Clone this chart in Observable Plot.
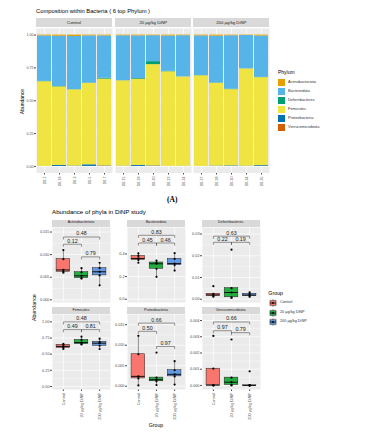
<!DOCTYPE html>
<html><head><meta charset="utf-8">
<script src="https://cdn.jsdelivr.net/npm/d3@7"></script>
<script src="https://cdn.jsdelivr.net/npm/@observablehq/plot@0.6"></script>
<style>
html,body{margin:0;padding:0;background:#fff;}
#root{position:relative;width:388px;height:435px;overflow:hidden;font-family:"Liberation Sans",Arial,sans-serif;background:#fff;}
.t{position:absolute;white-space:nowrap;line-height:1;}
.strip{position:absolute;background:#D9D9D9;color:#1A1A1A;display:flex;align-items:center;justify-content:center;white-space:nowrap;line-height:1;}
svg{overflow:visible;display:block;}
</style></head><body><div id="root"></div>
<script>
// ---------- data ----------
const phyla = ["Actinobacteriota","Bacteroidota","Deferribacteres","Firmicutes","Proteobacteria","Verrucomicrobiota"];
const phylumColors = ["#E69F00","#56B4E9","#009E73","#F0E442","#0072B2","#D55E00"];
const stackOrder = ["Verrucomicrobiota","Proteobacteria","Firmicutes","Deferribacteres","Bacteroidota","Actinobacteriota"];
const groups = ["Control","20 µg/kg DiNP","200 µg/kg DiNP"];
const groupColors = ["#F8766D","#22AD3E","#6398E2"];
const samples = ["D0-1","D0-16","D0-3","D0-5","D0-7","D0-15","D0-18","D0-20","D0-22","D0-24","D0-27","D0-28","D0-30","D0-34","D0-35"];
const sampleGroup = ["Control","Control","Control","Control","Control",
  "20 µg/kg DiNP","20 µg/kg DiNP","20 µg/kg DiNP","20 µg/kg DiNP","20 µg/kg DiNP",
  "200 µg/kg DiNP","200 µg/kg DiNP","200 µg/kg DiNP","200 µg/kg DiNP","200 µg/kg DiNP"];
const actinobacteriota = [0.0062,0.0090,0.0110,0.0060,0.0066, 0.0053,0.0061,0.0047,0.0070,0.0048, 0.0062,0.0082,0.0054,0.0032,0.0070];
const bacteroidota     = [0.3466,0.3827,0.4044,0.3602,0.3224, 0.3420,0.3246,0.1976,0.2691,0.3134, 0.3019,0.3564,0.4066,0.2533,0.3150];
const deferribacteres  = [0.0020,0.0025,0.0012,0.0015,0.0060, 0.0009,0.0051,0.0228,0.0031,0.0006, 0.0015,0.0025,0.0032,0.0011,0.0019];
const firmicutes       = [0.645,0.598,0.580,0.620,0.660, 0.650,0.656,0.770,0.720,0.680, 0.690,0.630,0.580,0.740,0.670];
const proteobacteria   = [0.0002,0.0078,0.0024,0.0123,0.0019, 0.0016,0.0082,0.0021,0.0003,0.0012, 0.0004,0.0029,0.0039,0.0024,0.0061];
const verrucomicrobiota= [0,0,0.00103,0.00002,0.00305, 0.0002,0,0.00283,0.00048,0.00003, 0,0.00001,0.00087,0,0];
const seriesByPhylum = {Actinobacteriota:actinobacteriota,Bacteroidota:bacteroidota,Deferribacteres:deferribacteres,
  Firmicutes:firmicutes,Proteobacteria:proteobacteria,Verrucomicrobiota:verrucomicrobiota};

const topYTicks = [0,0.25,0.5,0.75,1];

// box panel axes (one entry per phylum, same order as phyla)
const panelYTicks = [[0,0.005,0.010,0.015],[0,0.2,0.4],[0,0.01,0.02,0.03],[0,0.25,0.5,0.75,1],[0,0.005,0.010,0.015],[0,0.001,0.002,0.003,0.004]];
const panelYDomain = [[-0.0006,0.0160],[-0.029,0.634],[-0.0015,0.0330],[-0.047,1.114],[-0.0008,0.0175],[-0.00025,0.00437]];
const panelYFormat = [".3f",".1f",".2f",".2f",".3f",".3f"];

// significance brackets
const bracketPhylum = ["Actinobacteriota","Actinobacteriota","Actinobacteriota","Bacteroidota","Bacteroidota","Bacteroidota",
  "Deferribacteres","Deferribacteres","Deferribacteres","Firmicutes","Firmicutes","Firmicutes",
  "Proteobacteria","Proteobacteria","Proteobacteria","Verrucomicrobiota","Verrucomicrobiota","Verrucomicrobiota"];
const bracketFrom = [1,1,2, 1,1,2, 1,1,2, 1,1,2, 1,1,2, 1,1,2];
const bracketTo   = [3,2,3, 3,2,3, 3,2,3, 3,2,3, 3,2,3, 3,2,3];
const bracketY = [0.0139,0.0123,0.0095, 0.565,0.497,0.497, 0.0290,0.0262,0.0262, 1.00,0.88,0.88, 0.0154,0.0134,0.0097, 0.00391,0.00337,0.00325];
const bracketLabel = ["0.48","0.12","0.79", "0.83","0.45","0.46", "0.63","0.22","0.19", "0.48","0.49","0.81", "0.66","0.50","0.97", "0.66","0.97","0.79"];

// ---------- helpers ----------
const root = document.getElementById("root");
const FONT = "Liberation Sans, Arial, sans-serif";
function place(el, left, top){ const d=document.createElement("div"); d.style.cssText=`position:absolute;left:${left}px;top:${top}px;line-height:0;`; d.appendChild(el); root.appendChild(d); return d; }
function text(str, left, cy, size, extra=""){ const d=document.createElement("div"); d.className="t"; d.textContent=str;
  d.style.cssText+=`left:${left}px;top:${cy-size/2}px;font-size:${size}px;${extra}`; root.appendChild(d); return d; }
function strip(str, left, top, w, h, size){ const d=document.createElement("div"); d.className="strip"; d.textContent=str;
  d.style.cssText+=`left:${left}px;top:${top}px;width:${w}px;height:${h}px;font-size:${size}px;`; root.appendChild(d); }
const mids = t => d3.pairs(t).map(([a,b])=>(a+b)/2);

// ---------- top chart ----------
text("Composition within Bacteria ( 6 top Phylum )", 36, 12.3, 5.8, "color:#000;");
text("Abundance", 21.5, 101, 5, "color:#000;transform:translate(-50%,0) rotate(-90deg);transform-origin:50% 50%;");
const longRows = [];
samples.forEach((s,i)=>stackOrder.forEach(p=>longRows.push({sample:s, group:sampleGroup[i], phylum:p, value:seriesByPhylum[p][i]})));
const topLefts=[36,115.3,193.3], topW=76, topTop=27.7, topH=144.5;
groups.forEach((g,gi)=>{
  const ss = samples.filter((s,i)=>sampleGroup[i]===g);
  const rows = longRows.filter(r=>r.group===g);
  const mL = gi===0 ? 16 : 0;
  strip(g, topLefts[gi], 18.3, topW, 9, 4.3);
  const p = Plot.plot({
    width: mL+topW, height: topH+24, marginLeft: mL, marginRight: 0, marginTop: 0, marginBottom: 24,
    style: {fontFamily: FONT, fontSize: "3.6px", color: "#4D4D4D", background: "none", overflow: "visible", maxWidth: "none"},
    x: {domain: ss, paddingInner: 0.1, paddingOuter: 0.05, tickRotate: -90, tickSize: 2, tickPadding: 1.5, label: null},
    y: {domain: [-0.05,1.05], ticks: topYTicks, tickFormat: d3.format(".2f"), axis: gi===0 ? "left" : null, tickSize: 2, tickPadding: 1, label: null},
    color: {domain: phyla, range: phylumColors},
    marks: [
      Plot.frame({fill: "#EBEBEB", stroke: "none"}),
      Plot.ruleY(mids(topYTicks), {stroke: "white", strokeWidth: 0.35}),
      Plot.ruleY(topYTicks, {stroke: "white", strokeWidth: 0.7}),
      Plot.ruleX(ss, {stroke: "white", strokeWidth: 0.7}),
      Plot.barY(rows, {x: "sample", y: "value", fill: "phylum"})
    ]
  });
  place(p, topLefts[gi]-mL, topTop);
});
// Phylum legend
text("Phylum", 278, 72, 5, "color:#000;");
phyla.forEach((p,i)=>{
  const k=document.createElement("div"); k.style.cssText=`position:absolute;left:277.7px;top:${78.7+i*9}px;width:7.3px;height:7.3px;background:${phylumColors[i]};`;
  root.appendChild(k);
  text(p, 288, 78.7+i*9+3.65, 3.9, "color:#333;");
});
text("(A)", 172.3, 200, 7.5, "font-family:'Liberation Serif',serif;font-weight:bold;color:#000;transform:translateX(-50%);");

// ---------- bottom chart ----------
text("Abundance of phyla in DiNP study", 52, 212.3, 6.2, "color:#000;");
text("Abundance", 34.5, 307.5, 5.3, "color:#000;transform:translate(-50%,0) rotate(-90deg);transform-origin:50% 50%;");
text("Group", 156, 425.3, 5.2, "color:#000;transform:translateX(-50%);");
const colLefts=[52,127,201.7], rowStrip=[220,307.3], rowTops=[226.7,314], panelW=58, panelH=75;
phyla.forEach((ph,pi)=>{
  const col=pi%3, row=Math.floor(pi/3), bottom=row===1;
  strip(ph, colLefts[col], rowStrip[row], panelW, 6.7, 3.7);
  const vals = seriesByPhylum[ph];
  const pts = vals.map((v,i)=>({gi: groups.indexOf(sampleGroup[i])+1, group: sampleGroup[i], value: v}));
  const boxes = groups.map((g,k)=>{
    const s = pts.filter(d=>d.group===g).map(d=>d.value).sort(d3.ascending);
    const q1=d3.quantileSorted(s,0.25), med=d3.quantileSorted(s,0.5), q3=d3.quantileSorted(s,0.75), iqr=q3-q1;
    return {gi:k+1, group:g, q1, med, q3, lo:d3.min(s.filter(v=>v>=q1-1.5*iqr)), hi:d3.max(s.filter(v=>v<=q3+1.5*iqr))};
  });
  const dom = panelYDomain[pi], tip = 0.03*(dom[1]-dom[0]);
  const brs = bracketPhylum.map((b,i)=>({phylum:b, from:bracketFrom[i], to:bracketTo[i], y:bracketY[i], label:bracketLabel[i], id:i})).filter(b=>b.phylum===ph);
  const brLines = brs.flatMap(b=>[{id:b.id,x:b.from,y:b.y-tip},{id:b.id,x:b.from,y:b.y},{id:b.id,x:b.to,y:b.y},{id:b.id,x:b.to,y:b.y-tip}]);
  const mL=16, mB = bottom ? 36 : 0;
  const p = Plot.plot({
    width: mL+panelW, height: panelH+mB, marginLeft: mL, marginRight: 0, marginTop: 0, marginBottom: mB,
    style: {fontFamily: FONT, fontSize: "3.8px", color: "#4D4D4D", background: "none", overflow: "visible", maxWidth: "none"},
    x: {domain: [0.4,3.6], ticks: [1,2,3], tickFormat: i=>groups[i-1], axis: bottom ? "bottom" : null, tickRotate: -90, tickSize: 2, tickPadding: 1.5, label: null},
    y: {domain: dom, ticks: panelYTicks[pi], tickFormat: d3.format(panelYFormat[pi]), tickSize: 2, tickPadding: 1, label: null},
    color: {domain: groups, range: groupColors},
    marks: [
      Plot.frame({fill: "#EBEBEB", stroke: "none"}),
      Plot.ruleY(mids(panelYTicks[pi]), {stroke: "white", strokeWidth: 0.35}),
      Plot.ruleY(panelYTicks[pi], {stroke: "white", strokeWidth: 0.7}),
      Plot.ruleX([1,2,3], {stroke: "white", strokeWidth: 0.7}),
      Plot.ruleX(boxes, {x: "gi", y1: "lo", y2: "hi", stroke: "#222", strokeWidth: 0.5}),
      Plot.rect(boxes, {x1: d=>d.gi-0.375, x2: d=>d.gi+0.375, y1: "q1", y2: "q3", fill: "group", stroke: "#222", strokeWidth: 0.5}),
      Plot.ruleY(boxes, {x1: d=>d.gi-0.375, x2: d=>d.gi+0.375, y: "med", stroke: "#111", strokeWidth: 1}),
      Plot.dot(pts, {x: "gi", y: "value", r: 1.1, fill: "#000", stroke: "none"}),
      Plot.line(brLines, {x: "x", y: "y", z: "id", stroke: "#333", strokeWidth: 0.5}),
      Plot.text(brs, {x: d=>(d.from+d.to)/2, y: "y", text: "label", dy: -3.2, fontSize: 5.3, fill: "#1A1A1A"})
    ]
  });
  place(p, colLefts[col]-mL, rowTops[row]);
});
// Group legend
text("Group", 268.3, 294, 5.3, "color:#000;");
groups.forEach((g,i)=>{
  const cy = 303.3 + i*9.35;
  const ns="http://www.w3.org/2000/svg";
  const s=document.createElementNS(ns,"svg"); s.setAttribute("width",8); s.setAttribute("height",8);
  s.innerHTML=`<rect x="0" y="0" width="8" height="8" fill="#F2F2F2"/><line x1="4" y1="0.3" x2="4" y2="7.7" stroke="#222" stroke-width="0.5"/><rect x="1" y="1.8" width="6" height="4.4" fill="${groupColors[i]}" stroke="#222" stroke-width="0.5"/><line x1="1" y1="4" x2="7" y2="4" stroke="#111" stroke-width="0.8"/><circle cx="4" cy="4" r="0.9" fill="#000"/>`;
  place(s, 268.5, cy-4);
  text(g, 280, cy, 3.8, "color:#333;");
});
</script></body></html>
